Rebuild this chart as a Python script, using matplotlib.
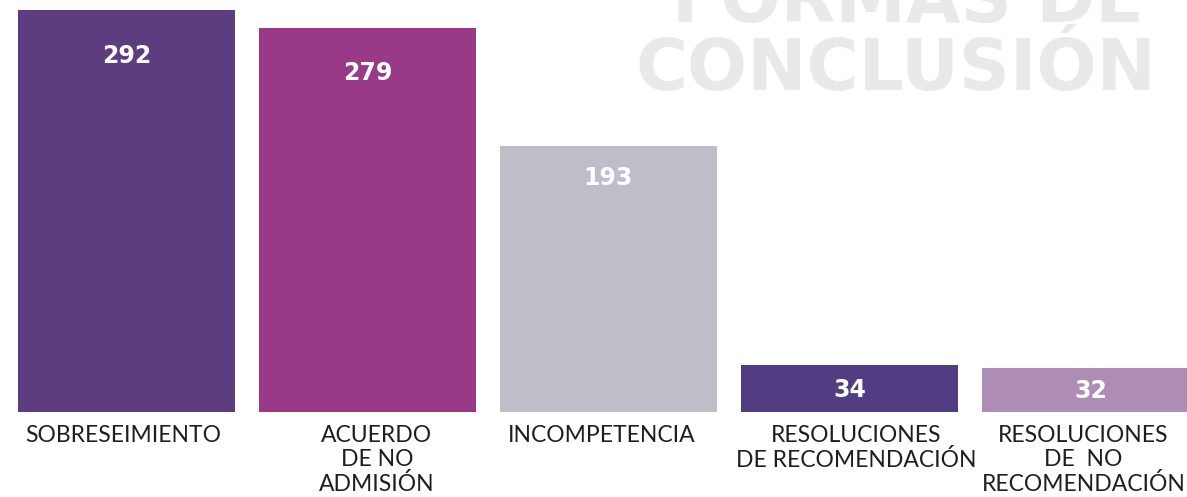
import matplotlib
matplotlib.use("Agg")
import matplotlib.pyplot as plt

# Datos del gráfico
categorias = ["SOBRESEIMIENTO", "ACUERDO\nDE NO\nADMISIÓN", "INCOMPETENCIA",
              "RESOLUCIONES\nDE RECOMENDACIÓN", "RESOLUCIONES\nDE  NO\nRECOMENDACIÓN"]
valores = [292, 279, 193, 34, 32]
colores = ["#5d3d80", "#983a88", "#bfbdc7", "#533d82", "#ae8db4"]

# Ajustes de posición (px): caída de la etiqueta de valor y corrimiento del texto de categoría
caida_etiqueta = [46, 45, 32, 25, 23]
corrimiento_x = [-3.5, 9.5, -6.5, 6.5, -7]

W, H = 1187, 497
paso_px = 241.0          # distancia entre barras en px
x0_px = 126.5            # centro de la primera barra
base_px = 412.0          # línea base desde arriba
k = 402.0 / 292.0        # px por unidad

fig = plt.figure(figsize=(W / 100, H / 100), dpi=100)
ax = fig.add_axes([0, 0, 1, 1])
ax.set_xlim(-x0_px / paso_px, (W - x0_px) / paso_px)
ax.set_ylim(-(H - base_px) / k, base_px / k)
ax.axis("off")

# Marca de agua de fondo
ax.text(908 / W, 1 - 22 / H, "FORMAS DE", transform=ax.transAxes, ha="center",
        va="baseline", fontsize=51, fontweight="bold", family="DejaVu Sans",
        color="#e9e9e9", zorder=0)
ax.text(895.5 / W, 1 - 90 / H, "CONCLUSIÓN", transform=ax.transAxes, ha="center",
        va="baseline", fontsize=51, fontweight="bold", family="DejaVu Sans",
        color="#e9e9e9", zorder=0)

pos = list(range(len(valores)))
ax.bar(pos, valores, width=217 / paso_px, color=colores, zorder=2)

for i, v in enumerate(valores):
    ax.annotate(str(v), (i, v), xytext=(0, -caida_etiqueta[i]),
                textcoords="offset pixels", ha="center", va="center",
                color="white", fontsize=17, fontweight="bold", family="DejaVu Sans",
                zorder=3)
    ax.annotate(categorias[i], (i, 0), xytext=(corrimiento_x[i], -13),
                textcoords="offset pixels", ha="center", va="top",
                color="#1e1e1e", fontsize=16.5, family="Lato",
                linespacing=1.16, zorder=3)

fig.savefig("out.png", dpi=100)
